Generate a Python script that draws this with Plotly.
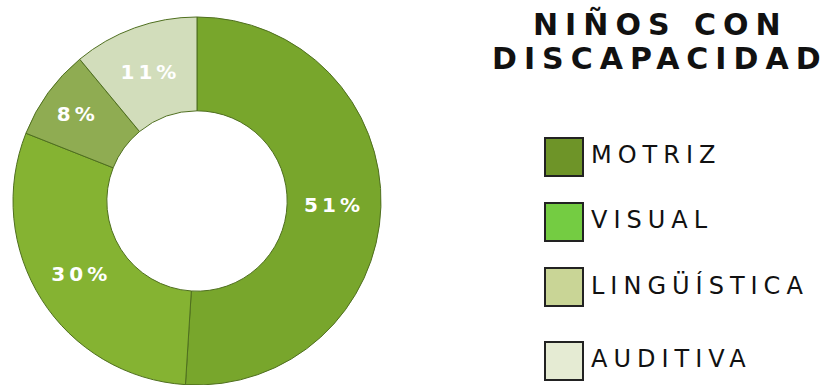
import plotly.graph_objects as go

# ---- data ----
categories = ["MOTRIZ", "VISUAL", "LINGÜÍSTICA", "AUDITIVA"]
values = [51, 30, 8, 11]
slice_colors = ["#78a62c", "#85b332", "#8fac52", "#d2ddbb"]
legend_colors = ["#6e9428", "#74cc42", "#c9d596", "#e5ebd3"]
title_lines = ["NIÑOS CON", "DISCAPACIDAD"]

W, H = 837, 385

fig = go.Figure()
fig.add_trace(go.Pie(
    labels=categories,
    values=values,
    sort=False,
    direction="clockwise",
    rotation=0,
    hole=0.49,
    marker=dict(colors=slice_colors, line=dict(color="#4f6f1f", width=1)),
    texttemplate="<b><span style='letter-spacing:4px'>%{value}%</span></b>",
    textposition="inside",
    insidetextorientation="horizontal",
    textfont=dict(family="DejaVu Sans", size=20, color="white"),
    showlegend=False,
    hoverinfo="label+percent",
    domain=dict(x=[13 / W, 381 / W], y=[0, 368 / H]),
))

# title
title_y = [24, 59]
for txt, yy in zip(title_lines, title_y):
    fig.add_annotation(
        x=660 / W, y=1 - yy / H, xref="paper", yref="paper",
        xanchor="center", yanchor="middle", showarrow=False,
        text=f"<b><span style='letter-spacing:7px'>{txt}</span></b>",
        font=dict(family="DejaVu Sans", size=30, color="#111111"),
    )

# custom legend
sw_top = [138, 203, 268, 342]
sw_size = 38
for cat, col, top in zip(categories, legend_colors, sw_top):
    fig.add_shape(
        type="rect", xref="paper", yref="paper",
        x0=545 / W, x1=(545 + sw_size) / W,
        y0=1 - (top + sw_size) / H, y1=1 - top / H,
        fillcolor=col, line=dict(color="#222222", width=2),
    )
    fig.add_annotation(
        x=589 / W, y=1 - (top + sw_size / 2 - 2) / H, xref="paper", yref="paper",
        xanchor="left", yanchor="middle", showarrow=False,
        text=f"<span style='letter-spacing:6px'>{cat}</span>",
        font=dict(family="DejaVu Sans", size=24, color="#111111"),
    )

fig.update_layout(
    width=W, height=H,
    margin=dict(l=0, r=0, t=0, b=0),
    paper_bgcolor="white", plot_bgcolor="white",
)

fig.write_html("out.html", config={"displayModeBar": False},
               post_script="document.body.style.margin='0';")
